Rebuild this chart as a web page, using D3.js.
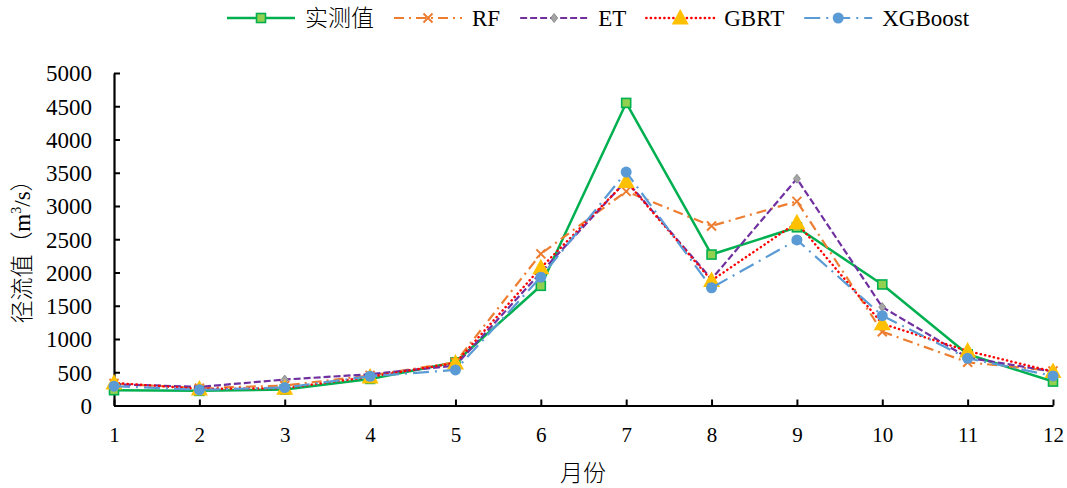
<!DOCTYPE html>
<html>
<head>
<meta charset="utf-8">
<script src="https://cdn.jsdelivr.net/npm/d3@7"></script>
<style>
  html, body { margin: 0; padding: 0; background: #fff; }
  svg { display: block; }
</style>
</head>
<body>
<svg id="chart" width="1067" height="488"></svg>
<script>
const months = [1, 2, 3, 4, 5, 6, 7, 8, 9, 10, 11, 12];
const actual = [230, 220, 240, 400, 650, 1800, 4550, 2270, 2680, 1820, 770, 360];
const rf     = [330, 260, 300, 450, 650, 2280, 3220, 2700, 3070, 1110, 650, 520];
const et     = [320, 280, 390, 470, 600, 2000, 3380, 1900, 3410, 1480, 720, 510];
const gbrt   = [340, 250, 260, 430, 640, 2070, 3370, 1880, 2750, 1230, 820, 510];
const xgb    = [290, 235, 270, 440, 535, 1930, 3510, 1770, 2490, 1350, 710, 445];
const yTicks = [0, 500, 1000, 1500, 2000, 2500, 3000, 3500, 4000, 4500, 5000];
const seriesNames = ["实测值", "RF", "ET", "GBRT", "XGBoost"];

const series = [
  { name: seriesNames[0], values: actual, color: "#00B050", width: 2.5, dash: null, cap: "butt", marker: "square" },
  { name: seriesNames[1], values: rf, color: "#ED7D31", width: 2.2, dash: "10,5,2,5", cap: "butt", marker: "x" },
  { name: seriesNames[2], values: et, color: "#7030A0", width: 2.2, dash: "7,3", cap: "butt", marker: "diamond" },
  { name: seriesNames[3], values: gbrt, color: "#FF0000", width: 2.4, dash: "0.3,4.2", cap: "round", marker: "triangle" },
  { name: seriesNames[4], values: xgb, color: "#5B9BD5", width: 2.2, dash: "16,6,2,6", cap: "butt", marker: "circle" }
];

const svg = d3.select("#chart");
const plotL = 114, plotR = 1053, plotT = 73, plotB = 405.5;

const x = d3.scalePoint().domain(months).range([plotL, plotR]);
const y = d3.scaleLinear().domain([0, 5000]).range([plotB, plotT]);

const serif = "'Liberation Serif', 'Times New Roman', serif";
const cjk = "'Noto Sans CJK SC', sans-serif";

// Axes
const xAxis = svg.append("g").attr("transform", `translate(0,${plotB})`)
  .call(d3.axisBottom(x).tickSizeInner(-6).tickSizeOuter(0).tickPadding(22));
const yAxis = svg.append("g").attr("transform", `translate(${plotL},0)`)
  .call(d3.axisLeft(y).tickValues(yTicks).tickFormat(d3.format("d")).tickSizeInner(-6).tickSizeOuter(0).tickPadding(22));

[xAxis, yAxis].forEach(g => {
  g.attr("font-family", serif);
  g.select(".domain").attr("stroke", "#000").attr("stroke-width", 2.2);
  g.selectAll(".tick line").attr("stroke", "#000").attr("stroke-width", 2);
  g.selectAll(".tick text").attr("fill", "#000").style("font-family", serif);
});
xAxis.selectAll(".tick text").style("font-size", "21px").attr("dy", "0.71em");
yAxis.selectAll(".tick text").style("font-size", "23px").attr("dy", "0.34em");

// Axis titles
svg.append("text")
  .attr("x", 583).attr("y", 481)
  .attr("text-anchor", "middle")
  .style("font-family", cjk).style("font-size", "23px").style("font-weight", 300)
  .attr("fill", "#000")
  .text("月份");

const yt = svg.append("text")
  .attr("transform", "translate(30,246) rotate(-90)")
  .attr("text-anchor", "middle")
  .attr("fill", "#000")
  .style("font-size", "23px");
yt.append("tspan").style("font-family", cjk).style("font-weight", 300).text("径流值（");
yt.append("tspan").style("font-family", serif).text("m");
yt.append("tspan").style("font-family", serif).style("font-size", "14px").attr("dy", -9).text("3");
yt.append("tspan").style("font-family", serif).attr("dy", 9).text("/s");
yt.append("tspan").style("font-family", cjk).style("font-weight", 300).text("）");

// Marker drawing
function drawMarker(g, type, cx, cy) {
  if (type === "square") {
    g.append("rect").attr("x", cx - 4.5).attr("y", cy - 4.5).attr("width", 9).attr("height", 9)
      .attr("fill", "#92D050").attr("stroke", "#00B050").attr("stroke-width", 1.6);
  } else if (type === "x") {
    g.append("path").attr("d", `M${cx-4.5},${cy-4.5}L${cx+4.5},${cy+4.5}M${cx-4.5},${cy+4.5}L${cx+4.5},${cy-4.5}`)
      .attr("stroke", "#ED7D31").attr("stroke-width", 2).attr("fill", "none");
  } else if (type === "diamond") {
    g.append("path").attr("d", `M${cx},${cy-4.5}L${cx+3.5},${cy}L${cx},${cy+4.5}L${cx-3.5},${cy}Z`)
      .attr("fill", "#A5A5A5").attr("stroke", "#7F7F7F").attr("stroke-width", 0.8);
  } else if (type === "triangle") {
    g.append("path").attr("d", `M${cx},${cy-9}L${cx+8.5},${cy+6.5}L${cx-8.5},${cy+6.5}Z`)
      .attr("fill", "#FFC000");
  } else if (type === "circle") {
    g.append("circle").attr("cx", cx).attr("cy", cy).attr("r", 5.5).attr("fill", "#5B9BD5");
  }
}

const line = d3.line().x((d, i) => x(months[i])).y(d => y(d));

series.forEach(s => {
  const g = svg.append("g");
  g.append("path").datum(s.values)
    .attr("d", line)
    .attr("fill", "none")
    .attr("stroke", s.color)
    .attr("stroke-width", s.width)
    .attr("stroke-dasharray", s.dash)
    .attr("stroke-linecap", s.cap)
    .attr("stroke-linejoin", "round");
  s.values.forEach((v, i) => drawMarker(g, s.marker, x(months[i]), y(v)));
});

// Legend
const legendY = 18;
let lx = 227;
series.forEach(s => {
  const g = svg.append("g");
  g.append("line").attr("x1", lx).attr("x2", lx + 68).attr("y1", legendY).attr("y2", legendY)
    .attr("stroke", s.color).attr("stroke-width", s.width).attr("stroke-dasharray", s.dash)
    .attr("stroke-linecap", s.cap);
  drawMarker(g, s.marker, lx + 34, legendY);
  const isCjk = /[\u4e00-\u9fff]/.test(s.name);
  const t = g.append("text").attr("x", lx + 78).attr("y", legendY).attr("dy", "0.35em")
    .attr("fill", "#000")
    .style("font-family", isCjk ? cjk : serif)
    .style("font-weight", isCjk ? 300 : 400)
    .style("font-size", "23px")
    .text(s.name);
  lx = lx + 78 + t.node().getComputedTextLength() + 20;
});
</script>
</body>
</html>
